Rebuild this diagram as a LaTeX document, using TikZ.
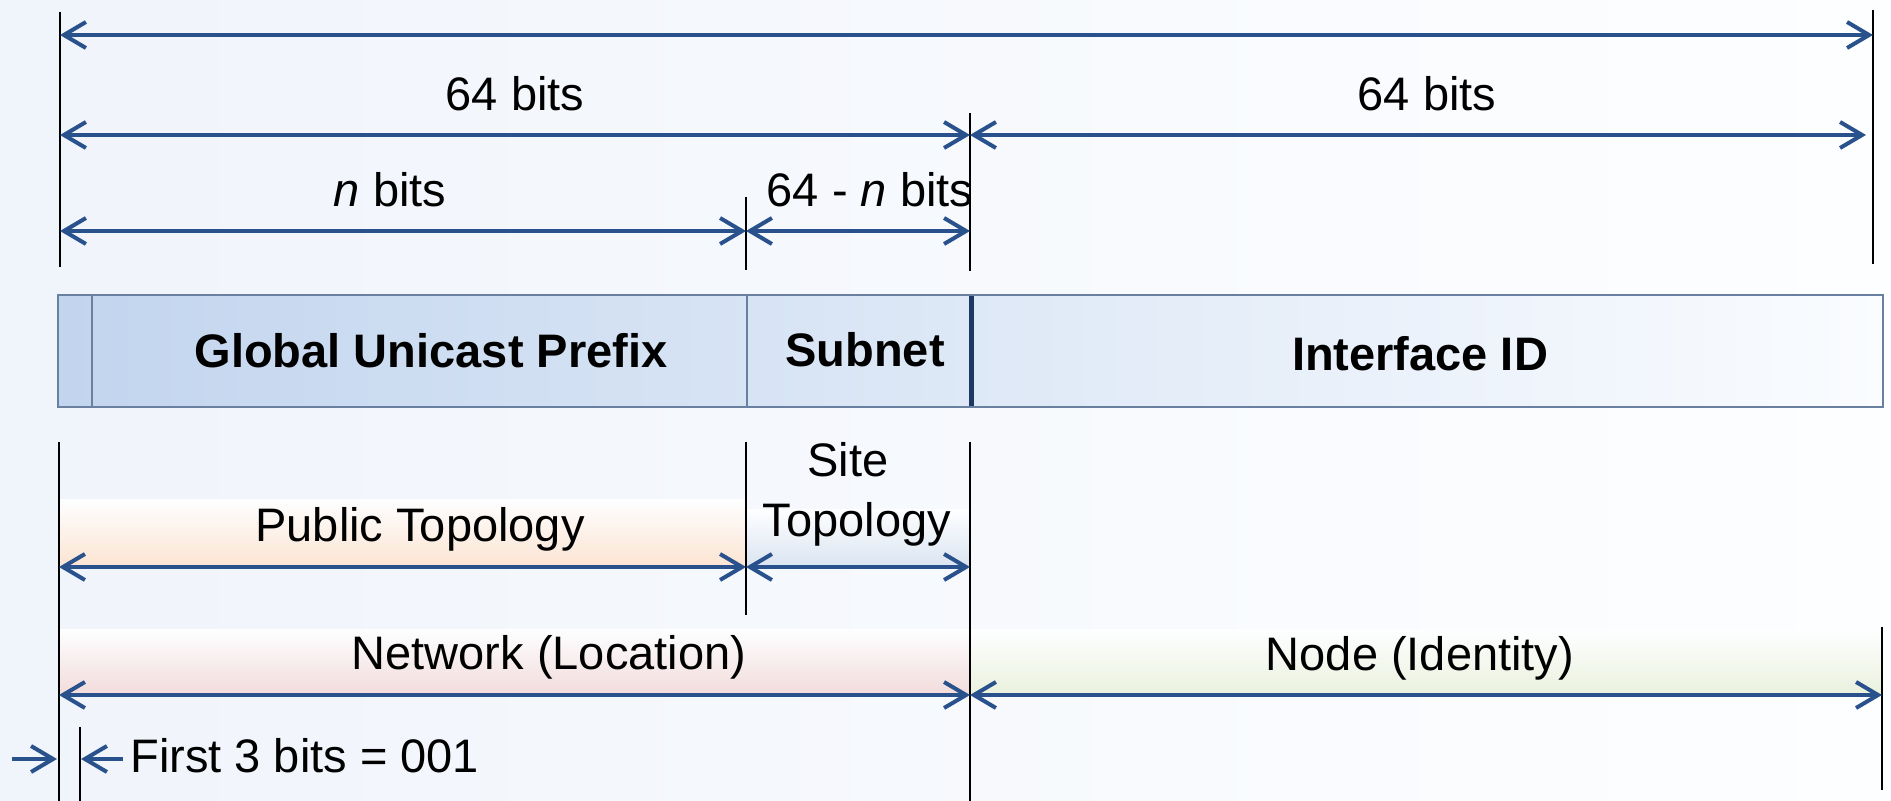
\documentclass[tikz,border=0pt]{standalone}
\usepackage{fontspec}
\setmainfont{Liberation Sans}
\usetikzlibrary{arrows.meta}

\definecolor{dimblue}{RGB}{41,82,140}
\definecolor{boxedge}{RGB}{105,128,160}
\definecolor{navy}{RGB}{30,56,100}
\definecolor{fieldl}{RGB}{194,213,238}
\definecolor{fieldr}{RGB}{250,252,255}
\definecolor{bgl}{RGB}{240,244,251}
\definecolor{bgr}{RGB}{253,254,255}
\definecolor{peach}{RGB}{252,228,210}
\definecolor{siteblue}{RGB}{218,228,241}
\definecolor{pinkish}{RGB}{242,219,219}
\definecolor{greenish}{RGB}{234,241,221}

\begin{document}
\begin{tikzpicture}[x=0.5pt,y=-0.5pt,>={Straight Barb[length=11pt,width=13pt,line width=2pt]},
dim/.style={<->,dimblue,line width=2pt},
tick/.style={draw=black,line width=0.6pt},
lbl/.style={font=\fontsize{23.5}{28}\selectfont,inner sep=0pt,anchor=base},
field/.style={font=\fontsize{23.5}{28}\selectfont\bfseries,inner sep=0pt,anchor=base}]

% background and colour bands
\shade[left color=bgl,right color=bgr] (0,0) rectangle (1891,801);
\useasboundingbox (0,0) rectangle (1891,801);
\shade[top color=bgr,bottom color=peach] (59,500) rectangle (746,567);
\shade[top color=bgr,bottom color=siteblue] (746,510) rectangle (970,567);
\shade[top color=bgr,bottom color=pinkish] (59,630) rectangle (970,695);
\shade[top color=bgr,bottom color=greenish] (970,630) rectangle (1882,695);

% the address fields
\shade[left color=fieldl,right color=fieldr,draw=boxedge,line width=0.8pt]
  (58,295) rectangle (1883,407);
\draw[boxedge,line width=0.6pt] (92,295) -- (92,407) (747,295) -- (747,407);
\draw[navy,line width=2.5pt] (971,296) -- (971,406);
\node[field] (gup) at (431,368) {Global Unicast Prefix};
\node[field] (subnet) at (865,367) {Subnet};
\node[field] (iid) at (1420,371) {Interface ID};

% tick lines
\coordinate (a0) at (60,35);   \coordinate (a1) at (1873,35);
\coordinate (b0) at (60,135);  \coordinate (b1) at (970,135);  \coordinate (b2) at (1866,135);
\coordinate (c0) at (60,231);  \coordinate (c1) at (746,231);  \coordinate (c2) at (970,231);
\coordinate (d0) at (59,567);  \coordinate (d1) at (746,567);  \coordinate (d2) at (970,567);
\coordinate (e0) at (59,695);  \coordinate (e1) at (970,695);  \coordinate (e2) at (1882,695);
\coordinate (f0) at (12,759);  \coordinate (f1) at (57,759);
\coordinate (g0) at (123,759); \coordinate (g1) at (81,759);

\draw[tick] (60,12) -- (60,267) (1873,10) -- (1873,264)
  (970,113) -- (970,271) (746,197) -- (746,270);
\draw[tick] (59,442) -- (59,801) (746,442) -- (746,615)
  (970,442) -- (970,801) (1882,627) -- (1882,790) (80,727) -- (80,801);

% dimension arrows
\path[dim]
  (a0) edge (a1)
  (b0) edge (b1)
  (b1) edge (b2)
  (c0) edge (c1)
  (c1) edge (c2)
  (d0) edge (d1)
  (d1) edge (d2)
  (e0) edge (e1)
  (e1) edge (e2);
\path[dim,->]
  (f0) edge (f1)
  (g0) edge (g1);

% labels
\node[lbl] (l64a) at (515,111) {64 bits};
\node[lbl] (l64b) at (1427,111) {64 bits};
\node[lbl] (ln) at (390,207) {\textit{n} bits};
\node[lbl] (l64n) at (870,207) {64 - \textit{n} bits};
\node[lbl] (site) at (848,477) {Site};
\node[lbl] (sitetop) at (857,537) {Topology};
\node[lbl] (pub) at (420,542) {Public Topology};
\node[lbl] (net) at (549,670) {Network (Location)};
\node[lbl] (node) at (1420,671) {Node (Identity)};
\node[lbl,anchor=base west] (first) at (130,773) {First 3 bits = 001};

\end{tikzpicture}
\end{document}
